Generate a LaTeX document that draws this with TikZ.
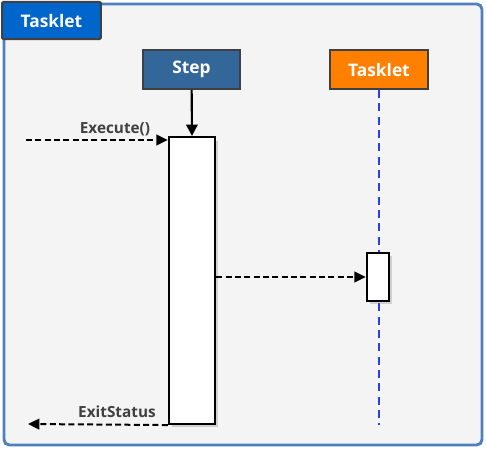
\documentclass[tikz,border=0pt]{standalone}
\usepackage{fontspec}
\setsansfont{Open Sans}
\usetikzlibrary{arrows.meta, positioning, shadows}
\definecolor{frameblue}{HTML}{4F7FBF}
\definecolor{titleblue}{HTML}{0066CC}
\definecolor{stepblue}{HTML}{336699}
\definecolor{taskorange}{HTML}{FF8000}
\definecolor{boxedge}{HTML}{404040}
\definecolor{bggray}{HTML}{F4F4F4}
\definecolor{lifeblue}{HTML}{2A3FF0}
\definecolor{lblgray}{HTML}{404040}

\begin{document}
\begin{tikzpicture}[
  >=Stealth,
  x=0.75pt, y=-0.75pt,
  font=\sffamily,
  header/.style={draw=boxedge, line width=1.5pt, text=white,
    font=\sffamily\bfseries\fontsize{13}{15}\selectfont,
    minimum width=73pt, minimum height=29pt, inner sep=0pt},
  actbar/.style={draw=black, line width=1.8pt, fill=white, inner sep=0pt,
    drop shadow={opacity=0.3, shadow xshift=2.5pt, shadow yshift=-2.5pt}},
  msg/.style={-{Triangle[length=8.5pt, width=8pt]}, dash pattern=on 4.5pt off 2.5pt, line width=1.5pt},
  lbl/.style={text=lblgray, font=\sffamily\bfseries\fontsize{11.5}{13}\selectfont, inner sep=1pt}
]
\useasboundingbox (0,0) rectangle (486,451);

% ----- bingkai luar -----
\draw[frameblue, line width=2.2pt, fill=bggray, rounded corners=4pt]
  (4,4) rectangle (482,445);
\node[header, fill=titleblue, rounded corners=1pt, minimum width=74pt, minimum height=28pt]
  (title) at (51.5,20.5) {Tasklet};

% ----- kepala lifeline -----
\node[header, fill=stepblue]   (step)    at (191.5,69.5) {Step};
\node[header, fill=taskorange] (tasklet) at (379,69.5)   {Tasklet};

% ----- lifeline tasklet -----
\coordinate (taskend) at (379,425);
\draw[lifeblue, dash pattern=on 6pt off 4pt, line width=1.5pt] (tasklet.south) -- (taskend);

% ----- batang aktivasi -----
\node[actbar, minimum width=34.5pt, minimum height=215pt] (stepbar) at (192,280.5) {};
\node[actbar, minimum width=16.5pt, minimum height=36pt]  (taskbar) at (378,277) {};

\draw[-{Triangle[length=8.5pt, width=8.5pt]}, line width=1.6pt] (step) -- (stepbar.north);

% ----- pesan -----
\coordinate (execin)  at (26,140);
\coordinate (exitout) at (28,424);
\draw[msg] (execin) -- (execin -| stepbar.west);
\node[lbl] (execlbl) at (115,129) {Execute()};

\draw[msg] (stepbar.east |- taskbar.west) -- (taskbar.west);

\draw[msg] (stepbar.south west) -- (exitout);
\node[lbl] (exitlbl) at (117,412) {ExitStatus};
\end{tikzpicture}
\end{document}
